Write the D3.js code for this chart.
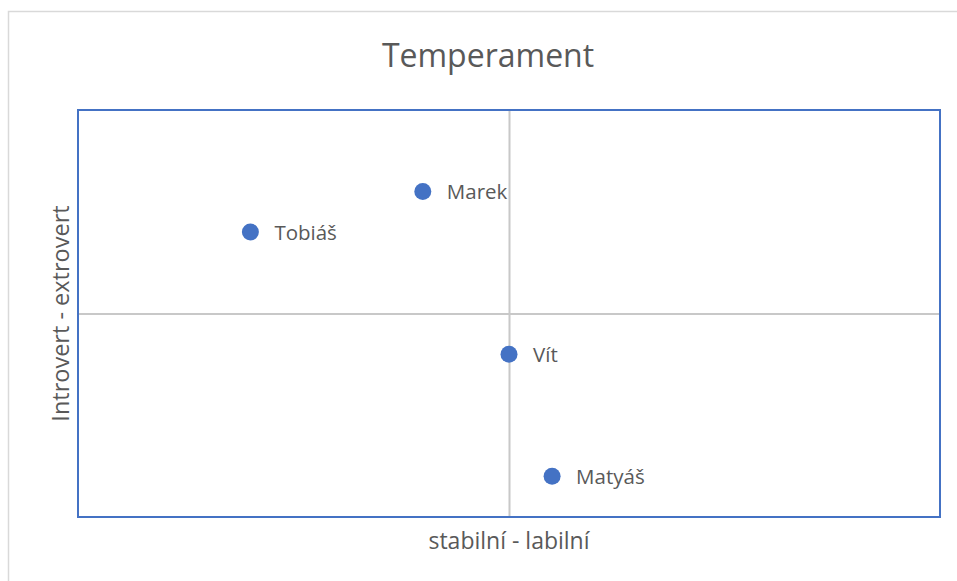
<!DOCTYPE html>
<html><head><meta charset="utf-8">
<script src="https://cdn.jsdelivr.net/npm/d3@7"></script>
<style>body{margin:0;background:#fff;} svg{display:block;} text{font-family:"Open Sans",sans-serif;fill:#595959;}</style>
</head><body>
<svg id="c" width="957" height="581"></svg>
<script>
const names = ["Marek", "Tobiáš", "Vít", "Matyáš"];
const xValues = [-2, -6, 0, 1];
const yValues = [6, 4, -2, -8];
const xDomain = [-10, 10];
const yDomain = [-10, 10];
const title = "Temperament";
const xTitle = "stabilní - labilní";
const yTitle = "Introvert - extrovert";

const svg = d3.select("#c");
const L = 78, R = 940, T = 110, B = 517;
svg.append("rect").attr("x",8.5).attr("y",11.5).attr("width",1000).attr("height",700)
  .attr("fill","#fff").attr("stroke","#d9d9d9").attr("stroke-width",1.5);

const x = d3.scaleLinear().domain(xDomain).range([L,R]);
const y = d3.scaleLinear().domain(yDomain).range([B,T]);

svg.append("g").call(d3.axisBottom(x).tickValues([0]).tickSize(-(B-T)).tickFormat(""))
  .attr("transform",`translate(0,${B})`)
  .call(g=>g.select(".domain").remove())
  .call(g=>g.selectAll("line").attr("stroke","#c8c8c8").attr("stroke-width",2));
svg.append("g").call(d3.axisLeft(y).tickValues([0]).tickSize(-(R-L)).tickFormat(""))
  .attr("transform",`translate(${L},0)`)
  .call(g=>g.select(".domain").remove())
  .call(g=>g.selectAll("line").attr("stroke","#c8c8c8").attr("stroke-width",2));

svg.append("rect").attr("x",L).attr("y",T).attr("width",R-L).attr("height",B-T)
  .attr("fill","none").attr("stroke","#4472C4").attr("stroke-width",2);

const data = names.map((n,i)=>({n, x:xValues[i], y:yValues[i]}));
svg.selectAll("circle.p").data(data).join("circle").attr("class","p")
  .attr("cx",d=>x(d.x)).attr("cy",d=>y(d.y)).attr("r",8.5).attr("fill","#4472C4");
svg.selectAll("text.l").data(data).join("text").attr("class","l")
  .attr("x",d=>x(d.x)+24).attr("y",d=>y(d.y)+7.5).attr("font-size",20.5).text(d=>d.n);

svg.append("text").attr("x",(L+R)/2-21).attr("y",67).attr("text-anchor","middle")
  .attr("font-size",32).text(title);
svg.append("text").attr("x",(L+R)/2).attr("y",549).attr("text-anchor","middle")
  .attr("font-size",23).text(xTitle);
svg.append("text").attr("transform",`translate(69,${(T+B)/2}) rotate(-90)`).attr("text-anchor","middle")
  .attr("font-size",23.5).text(yTitle);
</script>
</body></html>
